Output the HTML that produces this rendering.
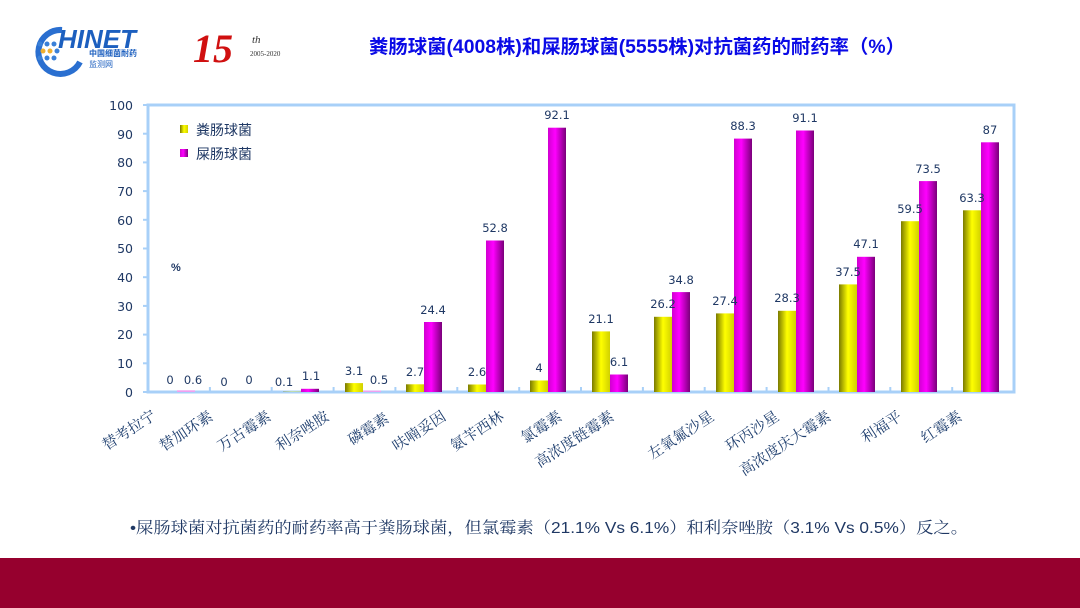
<!DOCTYPE html>
<html><head><meta charset="utf-8"><style>
html,body{margin:0;padding:0;background:#fff;}
svg{display:block}
.t{font-family:"Liberation Sans","Noto Sans CJK SC",sans-serif;}
.v{font-family:"DejaVu Sans",sans-serif;font-size:11.5px;fill:#1f3864;text-anchor:middle}
.y{font-family:"DejaVu Sans",sans-serif;font-size:12.5px;fill:#1f3864;text-anchor:end}
.c{font-family:"Noto Serif CJK SC",serif;font-size:15px;fill:#1f3f6f;text-anchor:end}
</style></head><body>
<svg width="1080" height="608" viewBox="0 0 1080 608" xmlns="http://www.w3.org/2000/svg">
<defs>
<linearGradient id="gy" x1="0" x2="1" y1="0" y2="0"><stop offset="0" stop-color="#7a7a00"/><stop offset="0.5" stop-color="#ffff00"/><stop offset="1" stop-color="#d0d000"/></linearGradient>
<linearGradient id="gm" x1="0" x2="1" y1="0" y2="0"><stop offset="0" stop-color="#d000d0"/><stop offset="0.4" stop-color="#ff00ff"/><stop offset="1" stop-color="#7a007a"/></linearGradient>
</defs>
<!-- logo -->
<path d="M62 30 A22 22 0 1 0 80 62" fill="none" stroke="#2a6fd0" stroke-width="6"/>
<g fill="#3a80d8"><circle cx="40" cy="44" r="2.5"/><circle cx="47" cy="44" r="2.5"/><circle cx="54" cy="44" r="2.5"/><circle cx="43" cy="51" r="2.5" fill="#f0b030"/><circle cx="50" cy="51" r="2.5" fill="#f0b030"/><circle cx="57" cy="51" r="2.5"/><circle cx="40" cy="58" r="2.5"/><circle cx="47" cy="58" r="2.5"/><circle cx="54" cy="58" r="2.5"/></g>
<text x="58" y="48" class="t" font-size="26" font-weight="bold" font-style="italic" fill="#1c5fbf">HINET</text>
<text x="89" y="56" class="t" font-size="8" font-weight="bold" fill="#1c5fbf">中国细菌耐药</text>
<text x="89" y="67" class="t" font-size="8" fill="#1c5fbf">监测网</text>
<text x="193" y="62" font-family="Liberation Serif,serif" font-size="40" font-weight="bold" font-style="italic" fill="#d01010">15</text>
<text x="252" y="43" font-family="Liberation Serif,serif" font-size="11" font-style="italic" fill="#333">th</text>
<text x="250" y="56" font-family="Liberation Serif,serif" font-size="7" fill="#333">2005-2020</text>
<!-- title -->
<text x="369" y="53" class="t" font-size="19" font-weight="bold" fill="#0a0ae6" textLength="536" lengthAdjust="spacingAndGlyphs">粪肠球菌(4008株)和屎肠球菌(5555株)对抗菌药的耐药率（%）</text>
<!-- frame -->
<rect x="148" y="105" width="866" height="287" fill="none" stroke="#a8d0f8" stroke-width="3"/>
<g stroke="#a8d0f8" stroke-width="2">
<line x1="143" y1="392" x2="148" y2="392"/><line x1="143" y1="363.3" x2="148" y2="363.3"/><line x1="143" y1="334.6" x2="148" y2="334.6"/><line x1="143" y1="305.9" x2="148" y2="305.9"/><line x1="143" y1="277.2" x2="148" y2="277.2"/><line x1="143" y1="248.5" x2="148" y2="248.5"/><line x1="143" y1="219.8" x2="148" y2="219.8"/><line x1="143" y1="191.1" x2="148" y2="191.1"/><line x1="143" y1="162.4" x2="148" y2="162.4"/><line x1="143" y1="133.7" x2="148" y2="133.7"/><line x1="143" y1="105" x2="148" y2="105"/>
<line x1="209.9" y1="387" x2="209.9" y2="392"/><line x1="271.7" y1="387" x2="271.7" y2="392"/><line x1="333.6" y1="387" x2="333.6" y2="392"/><line x1="395.4" y1="387" x2="395.4" y2="392"/><line x1="457.3" y1="387" x2="457.3" y2="392"/><line x1="519.2" y1="387" x2="519.2" y2="392"/><line x1="581" y1="387" x2="581" y2="392"/><line x1="642.9" y1="387" x2="642.9" y2="392"/><line x1="704.7" y1="387" x2="704.7" y2="392"/><line x1="766.6" y1="387" x2="766.6" y2="392"/><line x1="828.5" y1="387" x2="828.5" y2="392"/><line x1="890.3" y1="387" x2="890.3" y2="392"/><line x1="952.2" y1="387" x2="952.2" y2="392"/>
</g>
<text class="y" x="133" y="397">0</text><text class="y" x="133" y="368">10</text><text class="y" x="133" y="339">20</text><text class="y" x="133" y="311">30</text><text class="y" x="133" y="282">40</text><text class="y" x="133" y="253">50</text><text class="y" x="133" y="225">60</text><text class="y" x="133" y="196">70</text><text class="y" x="133" y="167">80</text><text class="y" x="133" y="139">90</text><text class="y" x="133" y="110">100</text>
<text x="171" y="271" class="t" font-size="11" font-weight="bold" fill="#1f3864">%</text>
<!-- legend -->
<rect x="180" y="125" width="8" height="8" fill="url(#gy)"/>
<text x="196" y="135" class="t" font-size="14" fill="#1f3864">粪肠球菌</text>
<rect x="180" y="149" width="8" height="8" fill="url(#gm)"/>
<text x="196" y="159" class="t" font-size="14" fill="#1f3864">屎肠球菌</text>
<!-- bars yellow -->
<g fill="url(#gy)">
<rect x="283" y="391.7" width="18" height="0.3"/>
<rect x="345" y="383.1" width="18" height="8.9"/>
<rect x="406" y="384.3" width="18" height="7.7"/>
<rect x="468" y="384.5" width="18" height="7.5"/>
<rect x="530" y="380.5" width="18" height="11.5"/>
<rect x="592" y="331.4" width="18" height="60.6"/>
<rect x="654" y="316.8" width="18" height="75.2"/>
<rect x="716" y="313.4" width="18" height="78.6"/>
<rect x="778" y="310.8" width="18" height="81.2"/>
<rect x="839" y="284.4" width="18" height="107.6"/>
<rect x="901" y="221.2" width="18" height="170.8"/>
<rect x="963" y="210.3" width="18" height="181.7"/>
</g>
<g fill="url(#gm)">
<rect x="177" y="390.3" width="18" height="1.7" fill="#f0a0f0"/>
<rect x="301" y="388.8" width="18" height="3.2"/>
<rect x="363" y="390.6" width="18" height="1.4" fill="#f0a0f0"/>
<rect x="424" y="322" width="18" height="70"/>
<rect x="486" y="240.5" width="18" height="151.5"/>
<rect x="548" y="127.7" width="18" height="264.3"/>
<rect x="610" y="374.5" width="18" height="17.5"/>
<rect x="672" y="292.1" width="18" height="99.9"/>
<rect x="734" y="138.6" width="18" height="253.4"/>
<rect x="796" y="130.5" width="18" height="261.5"/>
<rect x="857" y="256.8" width="18" height="135.2"/>
<rect x="919" y="181.1" width="18" height="210.9"/>
<rect x="981" y="142.3" width="18" height="249.7"/>
</g>
<!-- value labels -->
<text class="v" x="170" y="384">0</text><text class="v" x="193" y="384">0.6</text>
<text class="v" x="224" y="386">0</text><text class="v" x="249" y="384">0</text>
<text class="v" x="284" y="386">0.1</text><text class="v" x="311" y="380">1.1</text>
<text class="v" x="354" y="375">3.1</text><text class="v" x="379" y="384">0.5</text>
<text class="v" x="415" y="376">2.7</text><text class="v" x="433" y="314">24.4</text>
<text class="v" x="477" y="376">2.6</text><text class="v" x="495" y="232">52.8</text>
<text class="v" x="539" y="372">4</text><text class="v" x="557" y="119">92.1</text>
<text class="v" x="601" y="323">21.1</text><text class="v" x="619" y="366">6.1</text>
<text class="v" x="663" y="308">26.2</text><text class="v" x="681" y="284">34.8</text>
<text class="v" x="725" y="305">27.4</text><text class="v" x="743" y="130">88.3</text>
<text class="v" x="787" y="302">28.3</text><text class="v" x="805" y="122">91.1</text>
<text class="v" x="848" y="276">37.5</text><text class="v" x="866" y="248">47.1</text>
<text class="v" x="910" y="213">59.5</text><text class="v" x="928" y="173">73.5</text>
<text class="v" x="972" y="202">63.3</text><text class="v" x="990" y="134">87</text>
<!-- category labels -->
<text class="c" transform="translate(157,418) rotate(-33)">替考拉宁</text>
<text class="c" transform="translate(214,419) rotate(-33)">替加环素</text>
<text class="c" transform="translate(272,419) rotate(-33)">万古霉素</text>
<text class="c" transform="translate(330,419) rotate(-33)">利奈唑胺</text>
<text class="c" transform="translate(390,421) rotate(-33)">磷霉素</text>
<text class="c" transform="translate(447,419) rotate(-33)">呋喃妥因</text>
<text class="c" transform="translate(505,419) rotate(-33)">氨苄西林</text>
<text class="c" transform="translate(563,419) rotate(-33)">氯霉素</text>
<text class="c" transform="translate(615,419) rotate(-33)">高浓度链霉素</text>
<text class="c" transform="translate(715,419) rotate(-33)">左氧氟沙星</text>
<text class="c" transform="translate(780,419) rotate(-33)">环丙沙星</text>
<text class="c" transform="translate(832,419) rotate(-33)">高浓度庆大霉素</text>
<text class="c" transform="translate(903,419) rotate(-33)">利福平</text>
<text class="c" transform="translate(963,419) rotate(-33)">红霉素</text>
<!-- footnote -->
<text x="130" y="533" font-family="Liberation Sans,'Noto Serif CJK SC',serif" font-size="16" fill="#1f3864" textLength="838" lengthAdjust="spacingAndGlyphs">•屎肠球菌对抗菌药的耐药率高于粪肠球菌，但氯霉素（21.1% Vs 6.1%）和利奈唑胺（3.1% Vs 0.5%）反之。</text>
<rect x="0" y="558" width="1080" height="50" fill="#96002e"/>
</svg>
</body></html>
